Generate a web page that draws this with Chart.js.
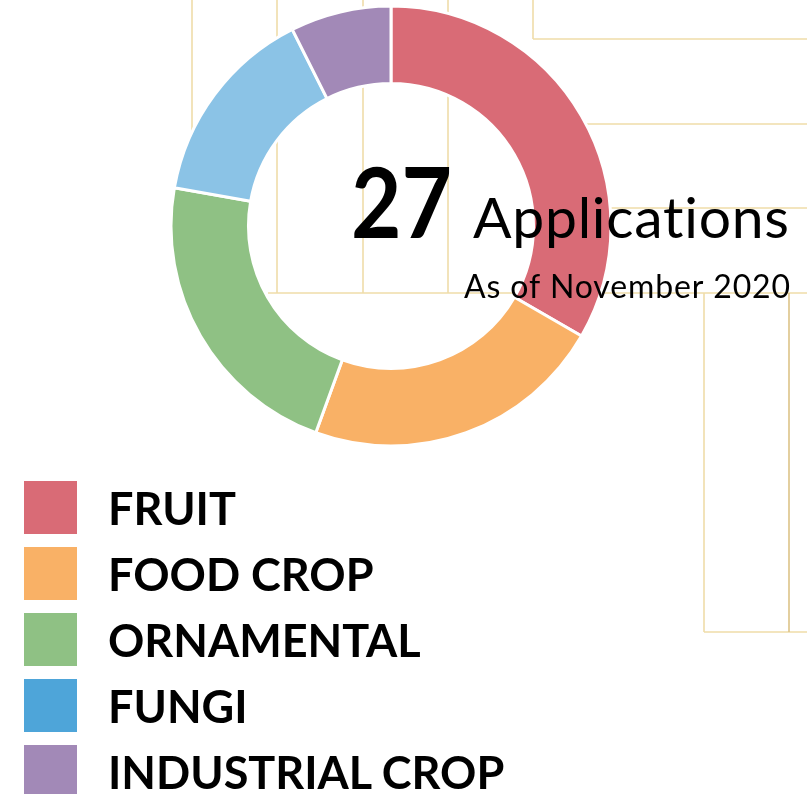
<!DOCTYPE html>
<html>
<head>
<meta charset="utf-8">
<title>Applications by crop type</title>
<script src="https://cdn.jsdelivr.net/npm/chart.js@4.4.1/dist/chart.umd.min.js"></script>
<style>
  html, body { margin: 0; padding: 0; background: #fff; }
  #wrap { position: relative; width: 807px; height: 794px; overflow: hidden; }
  #chart { position: absolute; left: 0; top: 0; }
  #legend {
    position: absolute; left: 24px; top: 481px;
    list-style: none; margin: 0; padding: 0;
    font-family: Lato, "Liberation Sans", sans-serif;
    font-weight: 700; font-size: 45px; color: #000;
  }
  #legend li { display: flex; align-items: center; height: 53px; margin-bottom: 13px; white-space: nowrap; }
  #legend .box { width: 53px; height: 53px; margin-right: 31px; flex: none; }
</style>
</head>
<body>
<div id="wrap">
  <canvas id="chart" width="807" height="794"></canvas>
  <ul id="legend"></ul>
</div>
<script>
// data
const labels       = ['FRUIT', 'FOOD CROP', 'ORNAMENTAL', 'FUNGI', 'INDUSTRIAL CROP'];
const applications = [9, 6, 6, 4, 2];
const sliceColors  = ['#D96B76', '#F9B166', '#8FC184', '#8BC3E6', '#A289B7'];
const legendColors = ['#D96B76', '#F9B166', '#8FC184', '#4EA5D9', '#A289B7'];
const unitLabel    = 'Applications';
const asOfLabel    = 'As of November 2020';

const total = applications.reduce((a, b) => a + b, 0);

// thin tan frame lines behind the doughnut (decoration)
const framePlugin = {
  id: 'frame',
  beforeDraw(chart) {
    const c = chart.ctx;
    c.save();
    c.strokeStyle = '#EFDCA9';
    c.lineWidth = 1.6;
    const seg = (x1, y1, x2, y2) => { c.beginPath(); c.moveTo(x1, y1); c.lineTo(x2, y2); c.stroke(); };
    [192, 277, 363, 448].forEach(x => seg(x, 0, x, 293));
    seg(533, 0, 533, 39);
    seg(533, 39, 807, 39);
    seg(560, 124, 807, 124);
    seg(600, 208, 807, 208);
    seg(268, 293, 807, 293);
    seg(704, 293, 704, 632);
    seg(704, 632, 807, 632);
    c.strokeStyle = '#DCC388';
    seg(789, 293, 789, 632);
    c.restore();
  }
};

// draw text starting at x so it spans roughly `width` px
function fitText(c, text, x, y, width) {
  c.letterSpacing = '0px';
  const w = c.measureText(text).width;
  if (w < width && text.length > 1) {
    c.letterSpacing = ((width - w) / (text.length - 1)).toFixed(2) + 'px';
    c.fillText(text, x, y);
    c.letterSpacing = '0px';
  } else {
    c.fillText(text, x, y, width);
  }
}

// total + caption over the hole
const centerText = {
  id: 'centerText',
  afterDraw(chart) {
    const c = chart.ctx;
    c.save();
    c.fillStyle = '#000';
    c.textBaseline = 'alphabetic';
    c.textAlign = 'left';
    c.font = '700 98px Lato, sans-serif';
    fitText(c, String(total), 351, 238, 101);
    c.font = '400 57px Lato, sans-serif';
    fitText(c, unitLabel, 473, 238, 317);
    c.font = '400 32px Lato, sans-serif';
    fitText(c, asOfLabel, 464, 298, 326);
    c.restore();
  }
};

const chart = new Chart(document.getElementById('chart'), {
  type: 'doughnut',
  data: {
    labels,
    datasets: [{
      data: applications,
      backgroundColor: sliceColors,
      borderColor: '#fff',
      borderWidth: 3,
      hoverOffset: 0
    }]
  },
  options: {
    responsive: false,
    animation: false,
    radius: 220,
    cutout: 143.5,
    layout: { padding: { left: 168, top: 3, right: 193, bottom: 345 } },
    plugins: {
      legend: { display: false },
      tooltip: { enabled: false }
    }
  },
  plugins: [framePlugin, centerText]
});

// legend list built from the same arrays
const ul = document.getElementById('legend');
labels.forEach((lab, i) => {
  const li = document.createElement('li');
  const box = document.createElement('span');
  box.className = 'box';
  box.style.background = legendColors[i];
  const txt = document.createElement('span');
  txt.textContent = lab;
  li.appendChild(box);
  li.appendChild(txt);
  ul.appendChild(li);
});
</script>
</body>
</html>
